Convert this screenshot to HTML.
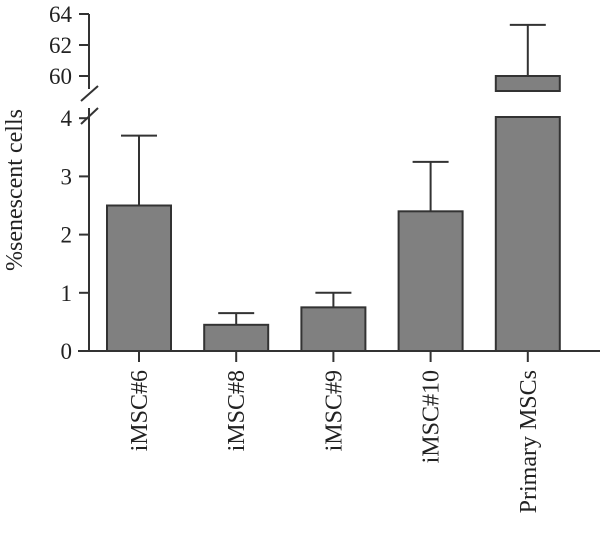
<!DOCTYPE html>
<html><head><meta charset="utf-8"><style>
body{margin:0;background:#fff}
svg text{font-family:"Liberation Serif",serif;fill:#222}
</style></head><body>
<svg width="600" height="535" viewBox="0 0 600 535">
<g id="axes"></g>
<g id="bars"></g>
<text transform="translate(22,190) rotate(-90)" text-anchor="middle" font-size="24">%senescent cells</text>
</svg>
<script>
const categories=["iMSC#6","iMSC#8","iMSC#9","iMSC#10","Primary MSCs"];
const values=[2.5,0.45,0.75,2.4,60];
const errors=[3.7,0.65,1.0,3.25,63.3];
const lowerTicks=[0,1,2,3,4];
const upperTicks=[60,62,64];
const NS="http://www.w3.org/2000/svg";
const ax=document.getElementById('axes'),bg=document.getElementById('bars');
function mk(p,t,a){const e=document.createElementNS(NS,t);for(const k in a)e.setAttribute(k,a[k]);p.appendChild(e);return e;}
const AX=89;
function yLow(v){return 351-v*58.2;}
function yUp(v){return 76-(v-60)*15.5;}
const LOW_TOP=108, UP_BOT=91;
function xC(i){return 139+i*97.2;}
const BW=64;
let l=mk(ax,'line',{x1:AX,y1:108,x2:AX,y2:351,stroke:'#333','stroke-width':2});

l=mk(ax,'line',{x1:AX,y1:14,x2:AX,y2:89,stroke:'#333','stroke-width':2});

l=mk(ax,'line',{x1:81,y1:101,x2:98,y2:86,stroke:'#333','stroke-width':2});

l=mk(ax,'line',{x1:81,y1:124,x2:98,y2:108,stroke:'#333','stroke-width':2});

l=mk(ax,'line',{x1:78,y1:351,x2:600,y2:351,stroke:'#333','stroke-width':2});

lowerTicks.forEach(v=>{const y=yLow(v);
 let t=mk(ax,'line',{x1:79,y1:y,x2:AX,y2:y,stroke:'#333','stroke-width':2});
 
 let tx=mk(ax,'text',{x:72,y:y+8,'text-anchor':'end','font-size':23});tx.textContent=v;
 });
upperTicks.forEach(v=>{const y=yUp(v);
 let t=mk(ax,'line',{x1:79,y1:y,x2:AX,y2:y,stroke:'#333','stroke-width':2});
 
 let tx=mk(ax,'text',{x:72,y:y+8,'text-anchor':'end','font-size':23});tx.textContent=v;
 });
categories.forEach((c,i)=>{const x=xC(i),v=values[i],e=errors[i];
 const yv=v>4?yUp(v):yLow(v), ye=e>4?yUp(e):yLow(e);
 let eb=mk(bg,'line',{x1:x,y1:ye,x2:x,y2:yv,stroke:'#333','stroke-width':2});
 
 let cap=mk(bg,'line',{x1:x-18,y1:ye,x2:x+18,y2:ye,stroke:'#333','stroke-width':2});
 
 if(v>4){
  let r=mk(bg,'rect',{x:x-BW/2,y:yv,width:BW,height:UP_BOT-yv,fill:'#808080',stroke:'#333','stroke-width':2});
  
  r=mk(bg,'rect',{x:x-BW/2,y:LOW_TOP+9,width:BW,height:351-LOW_TOP-9,fill:'#808080',stroke:'#333','stroke-width':2});
  
 }else{
  let r=mk(bg,'rect',{x:x-BW/2,y:yv,width:BW,height:351-yv,fill:'#808080',stroke:'#333','stroke-width':2});
  
 }
 let t=mk(ax,'line',{x1:x,y1:351,x2:x,y2:362,stroke:'#333','stroke-width':2});
 
 let tx=mk(ax,'text',{transform:`translate(${x+8},370) rotate(-90)`,'text-anchor':'end','font-size':24});tx.textContent=c;
 
});
</script>
</body></html>
